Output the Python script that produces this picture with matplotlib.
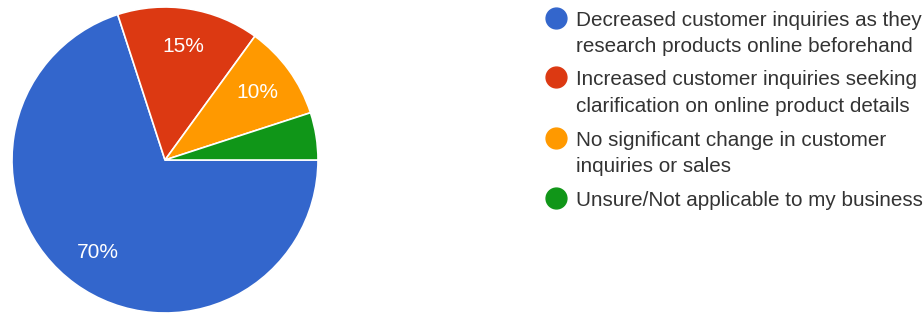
import matplotlib.pyplot as plt
from matplotlib.lines import Line2D

plt.rcParams['font.family'] = ['Liberation Sans', 'DejaVu Sans']

labels = [
    'Decreased customer inquiries as they\nresearch products online beforehand',
    'Increased customer inquiries seeking\nclarification on online product details',
    'No significant change in customer\ninquiries or sales',
    'Unsure/Not applicable to my business',
]
shares = [70, 15, 10, 5]
colors = ['#3366cc', '#dc3912', '#ff9900', '#109618']

W, H = 923, 313
fig = plt.figure(figsize=(W / 100, H / 100), dpi=100)

# pie axes: center ~ (165,160) px, radius ~153 px
r = 153
cx, cy = 165, 160
ax = fig.add_axes([(cx - r) / W, (H - cy - r) / H, 2 * r / W, 2 * r / H])
ax.pie(shares, colors=colors, startangle=0, counterclock=False,
       autopct=lambda p: f'{p:.0f}%' if p >= 6 else '',
       pctdistance=0.75, radius=1,
       wedgeprops=dict(edgecolor='white', linewidth=1.2),
       textprops=dict(color='white', fontsize=15))
ax.set_xlim(-1, 1)
ax.set_ylim(-1, 1)
ax.set_aspect('equal')
ax.axis('off')

# legend
marker_x = 556
text_x = 576
item_y = [18, 77, 138, 198]
for lab, col, y in zip(labels, colors, item_y):
    fig.add_artist(Line2D([marker_x / W], [1 - y / H], marker='o', markersize=15,
                          color=col, transform=fig.transFigure, linestyle='none'))
    fig.text(text_x / W, 1 - (y - 7) / H, lab, ha='left', va='top',
             fontsize=14.9, color='#333333', linespacing=1.5)

plt.savefig('out.png', dpi=100)
